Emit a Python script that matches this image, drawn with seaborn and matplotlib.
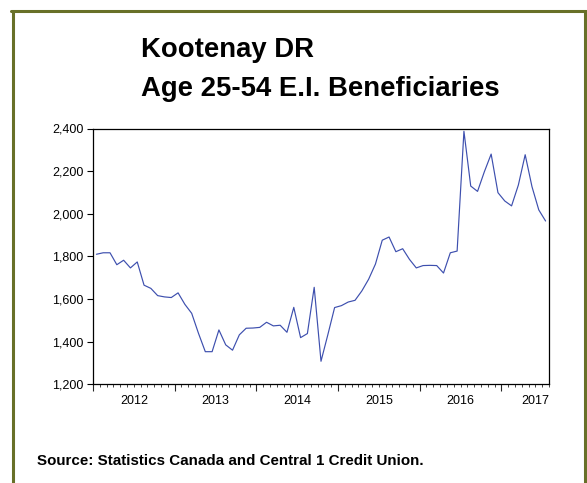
import numpy as np
import pandas as pd
import matplotlib
matplotlib.use("Agg")
import matplotlib.pyplot as plt
import seaborn as sns
from matplotlib.lines import Line2D
from matplotlib.ticker import FuncFormatter, FixedLocator

# Monthly E.I. beneficiaries, age 25-54, Kootenay DR (Jan 2012 - Jul 2017)
start_year = 2012
beneficiaries = [
    1810, 1817, 1817, 1761, 1782, 1746, 1774, 1665, 1650, 1616, 1610, 1607,  # 2012
    1629, 1575, 1533, 1439, 1353, 1353, 1455, 1385, 1360, 1432, 1463, 1464,  # 2013
    1467, 1491, 1474, 1477, 1444, 1561, 1419, 1438, 1655, 1308, 1432, 1560,  # 2014
    1569, 1586, 1594, 1638, 1693, 1764, 1876, 1891, 1822, 1836, 1786, 1746,  # 2015
    1757, 1758, 1757, 1722, 1817, 1825, 2387, 2130, 2105, 2197, 2280, 2099,  # 2016
    2060, 2037, 2135, 2277, 2127, 2018, 1966,                                # 2017
]
year_labels = ["2012", "2013", "2014", "2015", "2016", "2017"]
y_ticks = [1200, 1400, 1600, 1800, 2000, 2200, 2400]

n = len(beneficiaries)
df = pd.DataFrame({
    "time": start_year + (np.arange(n) + 0.5) / 12.0,
    "beneficiaries": beneficiaries,
})

sns.set_theme(style="white")
plt.rcParams["font.family"] = ["Liberation Sans", "DejaVu Sans"]

W, H = 587, 483
fig = plt.figure(figsize=(W / 100, H / 100), dpi=100)
fig.patch.set_facecolor("white")

# plot area in pixel coordinates
left, right, top, bottom = 93, 549, 128.5, 384.3
ax = fig.add_axes([left / W, 1 - bottom / H, (right - left) / W, (bottom - top) / H])

sns.lineplot(data=df, x="time", y="beneficiaries", ax=ax,
             color="#3d4fae", linewidth=0.85)

x0 = start_year
x1 = start_year + n / 12.0
ax.set_xlim(x0, x1)
ax.set_ylim(y_ticks[0], y_ticks[-1])

# y axis
ax.yaxis.set_major_locator(FixedLocator(y_ticks))
ax.yaxis.set_major_formatter(FuncFormatter(lambda v, p: f"{int(v):,}"))
ax.tick_params(axis="y", which="major", direction="out", length=4, width=0.8,
               pad=3, labelsize=9, colors="black", left=True)

# x axis: year boundaries as major ticks, month boundaries as minor ticks
ax.xaxis.set_major_locator(FixedLocator(np.arange(x0, x1 + 1e-9, 1.0)))
ax.xaxis.set_minor_locator(FixedLocator(np.arange(x0, x1 + 1e-9, 1 / 12.0)))
ax.set_xticklabels([])
ax.tick_params(axis="x", which="major", direction="out", length=5, width=0.8,
               bottom=True)
ax.tick_params(axis="x", which="minor", direction="out", length=2.5, width=0.6,
               bottom=True)
label_pos = [x0 + i + 0.5 for i in range(len(year_labels))]
label_pos[-1] = min(label_pos[-1], x1 - 0.17)
for xp, lab in zip(label_pos, year_labels):
    ax.text(xp, -0.065, lab, transform=ax.get_xaxis_transform(),
            ha="center", va="center", fontsize=9, color="black")

ax.set_xlabel("")
ax.set_ylabel("")
for s in ax.spines.values():
    s.set_visible(True)
    s.set_color("black")
    s.set_linewidth(0.9)

# title
fig.text(141 / W, 1 - 50 / H, "Kootenay DR", ha="left", va="center",
         fontsize=19.8, fontweight="bold", color="black")
fig.text(141 / W, 1 - 89.5 / H, "Age 25-54 E.I. Beneficiaries", ha="left",
         va="center", fontsize=19.8, fontweight="bold", color="black")

# source note
fig.text(37 / W, 1 - 461 / H,
         "Source: Statistics Canada and Central 1 Credit Union.",
         ha="left", va="center", fontsize=10.9, fontweight="bold", color="black")

# olive outer frame (open at the bottom)
frame_color = "#687028"
lw = 2.2
fig.add_artist(Line2D([12.5 / W, 12.5 / W], [0, 1 - 10.5 / H],
                      transform=fig.transFigure, color=frame_color, lw=lw))
fig.add_artist(Line2D([584.5 / W, 584.5 / W], [0, 1 - 10.5 / H],
                      transform=fig.transFigure, color=frame_color, lw=lw))
fig.add_artist(Line2D([11 / W, 586 / W], [1 - 10.5 / H, 1 - 10.5 / H],
                      transform=fig.transFigure, color=frame_color, lw=lw))

fig.savefig("out.png", dpi=100, facecolor="white")
